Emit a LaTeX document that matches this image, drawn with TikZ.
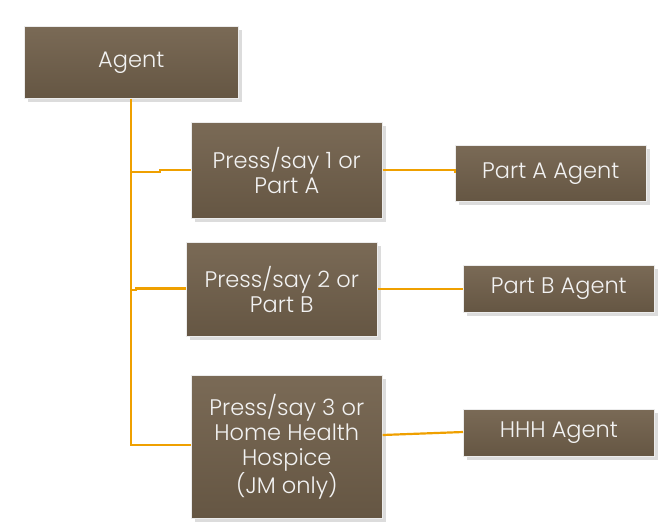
\documentclass[tikz,border=0pt]{standalone}
\usepackage{fontspec}
\setmainfont{Poppins}[UprightFont=* Light]
\usetikzlibrary{shadows}
\definecolor{boxtop}{HTML}{7A6A56}
\definecolor{boxbot}{HTML}{655643}
\definecolor{conn}{HTML}{EFA000}
\definecolor{shd}{HTML}{DCDCDC}
\tikzset{
  box/.style={draw=white!85!gray, line width=0.6pt, top color=boxtop, bottom color=boxbot,
    text=white!90!gray, align=center, inner sep=0pt, anchor=north west,
    font=\fontsize{22.5}{25}\selectfont,
    drop shadow={shadow xshift=3.5pt, shadow yshift=-3.5pt, fill=shd, opacity=1}},
  link/.style={draw=conn, line width=2.2pt}
}
\begin{document}
\begin{tikzpicture}[x=1pt,y=-1pt]
\useasboundingbox (0,0) rectangle (660,530);
\node[box, minimum width=214pt, minimum height=72pt] (agent) at (24,26) {\raisebox{-2pt}{Agent}};
\node[box, minimum width=191pt, minimum height=96pt] (p1) at (191,122) {Press/say 1 or\\Part A};
\node[box, minimum width=191pt, minimum height=94pt] (p2) at (186,242) {Press/say 2 or\\Part B};
\node[box, minimum width=191pt, minimum height=143pt] (p3) at (191,375) {Press/say 3 or\\Home Health\\Hospice\\(JM only)};
\node[box, minimum width=191pt, minimum height=56pt] (pa) at (455,145) {Part A Agent};
\node[box, minimum width=191pt, minimum height=47pt] (pb) at (463,265) {Part B Agent};
\node[box, minimum width=191pt, minimum height=47pt] (hh) at (463,409) {HHH Agent};
\coordinate (t1) at (131,172);
\coordinate (t2) at (131,290);
\coordinate (t3) at (131,445);
\draw[link] (agent.south -| t1) -- (t3) -- (t3 -| p3.west);
\draw[link] (t1) -- (160,172) -- (160,170) -- (p1.west |- 0,170);
\draw[link] (t2) -- (136,290) -- (136,288.5) -- (p2.west |- 0,288.5);
\draw[link] (p1.east |- 0,170) -- (455,170) -- (pa.west |- 0,173);
\draw[link] (p2.east |- 0,289) -- (pb.west |- 0,289);
\draw[link] (p3.east |- 0,435) -- (hh.west |- 0,432);
\end{tikzpicture}
\end{document}
